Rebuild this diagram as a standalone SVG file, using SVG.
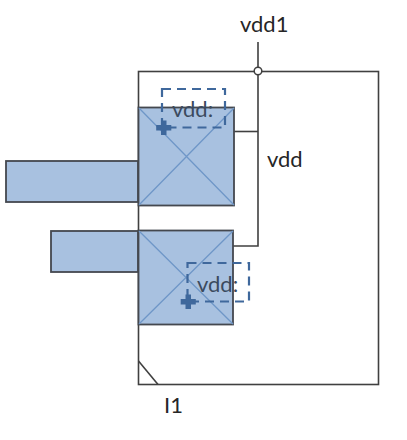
<svg xmlns="http://www.w3.org/2000/svg" width="407" height="440" viewBox="0 0 407 440">
<style>
.w{fill:none;stroke:#404040;stroke-width:1.6}
.b{fill:#a8c1e0;stroke:#44484f;stroke-width:1.8}
.x{fill:none;stroke:#6f97c8;stroke-width:1.3}
.d{fill:none;stroke:#3f689c;stroke-width:2.200;stroke-dasharray:9 6}
.p{fill:#3f689c}
text{font-family:Lato,"Liberation Sans",sans-serif;font-size:22px;fill:#262626}
.l{fill:#3b4a5e}
</style>
<g id="cell-frame">
<rect class="w" x="138.500" y="71.500" width="240" height="313"/>
<path class="w" d="M138.500 361L158 384.500"/>
</g>
<g id="connectors">
<path class="w" d="M258 42V246H233"/>
<path class="w" d="M234 131.500H258"/>
</g>
<g id="junction"><circle cx="258" cy="71" r="3.800" fill="#fff" stroke="#404040" stroke-width="1.500"/></g>
<g id="gate-top">
<rect class="b" x="6" y="161" width="132" height="41"/>
</g>
<g id="gate-bottom">
<rect class="b" x="51" y="231" width="87" height="41"/>
</g>
<g id="transistor-top">
<rect class="b" x="138.500" y="107.500" width="95.500" height="98"/>
<path class="x" d="M139 108L234 205M234 108L139 205"/>
<rect class="d" x="162" y="89" width="63" height="38.500"/>
<path class="p" d="M161 120.500h5.500v4.500h4.800v5.500h-4.800v4.500h-5.500v-4.500h-4.800v-5.500h4.800z"/>
<text class="l" x="172" y="117">vdd:</text>
</g>
<g id="transistor-bottom">
<rect class="b" x="138.500" y="230.500" width="94.500" height="94"/>
<path class="x" d="M139 231L233 324M233 231L139 324"/>
<rect class="d" x="187.500" y="263" width="61.500" height="38.500"/>
<path class="p" d="M185.500 294.500h5.500v4.500h4.800v5.500h-4.800v4.500h-5.500v-4.500h-4.800v-5.500h4.800z"/>
<text class="l" x="197" y="292">vdd:</text>
</g>
<g id="labels">
<text x="240" y="32">vdd1</text>
<text x="267" y="167">vdd</text>
<text x="164" y="413">I1</text>
</g>
</svg>
